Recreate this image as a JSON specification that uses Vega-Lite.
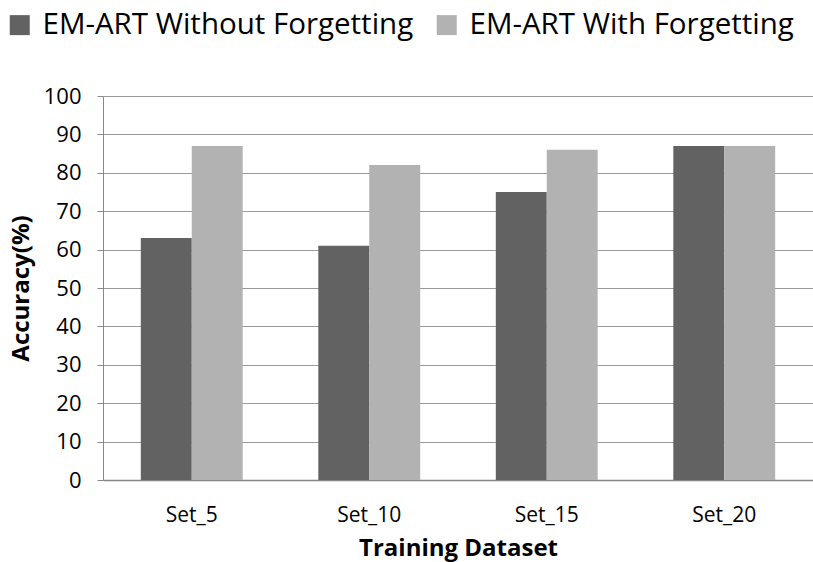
{
  "$schema": "https://vega.github.io/schema/vega-lite/v6.json",
  "width": 710,
  "height": 384,
  "autosize": {"type": "none"},
  "padding": {"left": 103, "top": 96, "right": 0, "bottom": 82},
  "background": "white",
  "config": {"view": {"stroke": null}, "font": "Open Sans"},
  "data": {"values": [
    {"set": "Set_5", "series": "EM-ART Without Forgetting", "acc": 63},
    {"set": "Set_5", "series": "EM-ART With Forgetting", "acc": 87},
    {"set": "Set_10", "series": "EM-ART Without Forgetting", "acc": 61},
    {"set": "Set_10", "series": "EM-ART With Forgetting", "acc": 82},
    {"set": "Set_15", "series": "EM-ART Without Forgetting", "acc": 75},
    {"set": "Set_15", "series": "EM-ART With Forgetting", "acc": 86},
    {"set": "Set_20", "series": "EM-ART Without Forgetting", "acc": 87},
    {"set": "Set_20", "series": "EM-ART With Forgetting", "acc": 87}
  ]},
  "mark": {"type": "bar"},
  "encoding": {
    "x": {
      "field": "set", "type": "nominal", "sort": ["Set_5", "Set_10", "Set_15", "Set_20"],
      "scale": {"paddingInner": 0.426, "paddingOuter": 0.213},
      "axis": {
        "title": "Training Dataset", "titleFontSize": 24, "titleFontWeight": "bold", "titleColor": "#000",
        "titlePadding": 11,
        "labelAngle": 0, "labelFontSize": 21, "labelColor": "#000", "labelPadding": 24,
        "ticks": false, "domainColor": "#888", "domainWidth": 1.5, "grid": false
      }
    },
    "xOffset": {"field": "series", "type": "nominal", "sort": ["EM-ART Without Forgetting", "EM-ART With Forgetting"], "scale": {"paddingInner": 0, "paddingOuter": 0}},
    "y": {
      "field": "acc", "type": "quantitative",
      "scale": {"domain": [0, 100], "nice": false},
      "axis": {
        "title": "Accuracy(%)", "titleFontSize": 24, "titleFontWeight": "bold", "titleColor": "#000", "titlePadding": 10,
        "values": [0, 10, 20, 30, 40, 50, 60, 70, 80, 90, 100],
        "labelFontSize": 22, "labelColor": "#000", "labelPadding": 16,
        "tickSize": 6, "tickColor": "#888", "domainColor": "#888", "gridColor": "#999", "gridWidth": 1
      }
    },
    "color": {
      "field": "series", "type": "nominal", "sort": ["EM-ART Without Forgetting", "EM-ART With Forgetting"],
      "scale": {"range": ["#626262", "#b2b2b2"]},
      "legend": {
        "title": null, "orient": "none", "legendX": -98, "legendY": -86, "direction": "horizontal",
        "symbolType": "square", "symbolSize": 400, "symbolStrokeWidth": 0,
        "labelFontSize": 29.5, "labelColor": "#000", "labelLimit": 600, "labelOffset": 8, "columnPadding": 18
      }
    }
  }
}
